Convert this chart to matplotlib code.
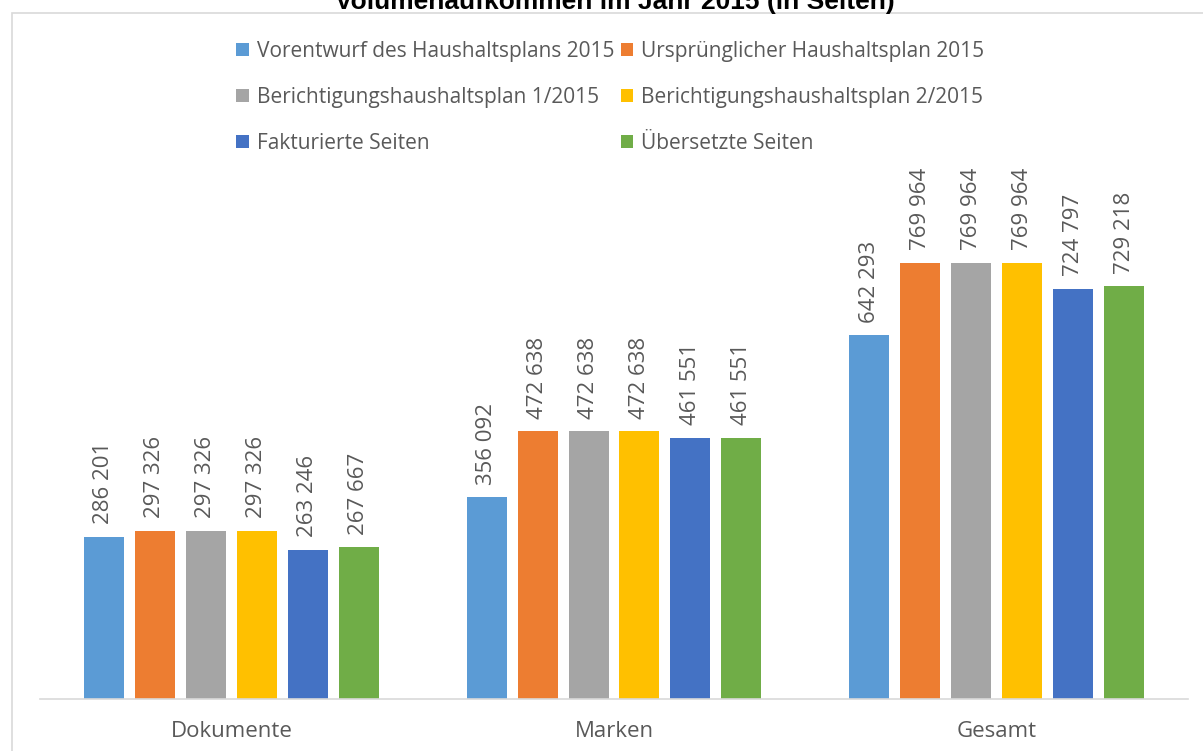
import numpy as np
import matplotlib.pyplot as plt
from matplotlib.patches import Rectangle

categories = ['Dokumente', 'Marken', 'Gesamt']
series = ['Vorentwurf des Haushaltsplans 2015', 'Ursprünglicher Haushaltsplan 2015',
          'Berichtigungshaushaltsplan 1/2015', 'Berichtigungshaushaltsplan 2/2015',
          'Fakturierte Seiten', 'Übersetzte Seiten']
vorentwurf = [286201, 356092, 642293]
urspruenglich = [297326, 472638, 769964]
bericht1 = [297326, 472638, 769964]
bericht2 = [297326, 472638, 769964]
fakturiert = [263246, 461551, 724797]
uebersetzt = [267667, 461551, 729218]
values = [vorentwurf, urspruenglich, bericht1, bericht2, fakturiert, uebersetzt]
colors = ['#5b9bd5', '#ed7d31', '#a5a5a5', '#ffc000', '#4472c4', '#70ad47']

plt.rcParams['font.family'] = ['Open Sans', 'DejaVu Sans']
txt = '#595959'

W, H = 1203, 751
fig = plt.figure(figsize=(W / 100, H / 100), dpi=100)

ymax = 900000
px_per_unit = 436 / 769964
ax_h = ymax * px_per_unit
ax = fig.add_axes([40 / W, 1 - 699 / H, 1148 / W, ax_h / H])

# chart border (cut off at the right and bottom)
fig.patches.append(Rectangle((12 / W, -0.05), 1.2, 1 - 13 / H + 0.05,
                             transform=fig.transFigure, fill=False,
                             edgecolor='#d9d9d9', linewidth=1.2))

x = np.arange(len(categories))
bw = 40 / 383
step = 51 / 383
bars = []
for i, (name, vals, c) in enumerate(zip(series, values, colors)):
    b = ax.bar(x + (i - 2.5) * step, vals, bw, color=c, label=name)
    bars.append(b)
    for xi, v in zip(x + (i - 2.5) * step, vals):
        ax.annotate(f'{v:,}'.replace(',', ' '), (xi, v), xytext=(0, 9),
                    textcoords='offset points', rotation=90, ha='center',
                    va='bottom', fontsize=16, color=txt)

ax.set_xlim(-0.5, 2.5)
ax.set_ylim(0, ymax)
ax.set_xticks(x)
ax.set_xticklabels(categories, fontsize=16, color=txt)
ax.tick_params(axis='x', length=0, pad=16)
ax.set_yticks([])
for s in ['top', 'right', 'left']:
    ax.spines[s].set_visible(False)
ax.spines['bottom'].set_color('#d9d9d9')
ax.spines['bottom'].set_linewidth(1.2)

order = [0, 2, 4, 1, 3, 5]
leg = fig.legend([bars[i] for i in order], [series[i] for i in order], ncol=2,
                 loc='upper left', bbox_to_anchor=(236 / W, 1 - 41 / H),
                 frameon=False, fontsize=15, handlelength=0.6, handleheight=0.6,
                 handletextpad=0.4, columnspacing=0.3, labelspacing=1.2,
                 borderaxespad=0, borderpad=0)
for t in leg.get_texts():
    t.set_color(txt)

fig.text(615 / W, 1 - 9 / H, 'Volumenaufkommen im Jahr 2015 (in Seiten)',
         ha='center', va='baseline', fontsize=19, fontweight='bold',
         family=['Liberation Sans Narrow', 'Liberation Sans'], color='black')

fig.savefig('out.png', dpi=100)
